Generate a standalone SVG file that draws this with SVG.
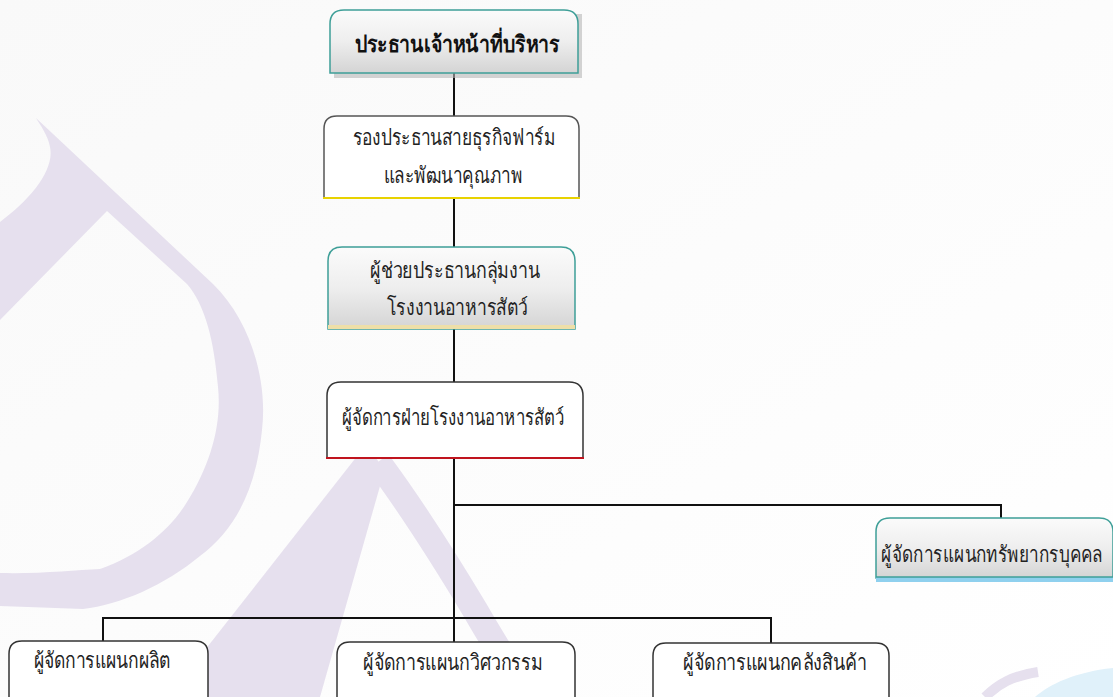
<svg xmlns="http://www.w3.org/2000/svg" width="1113" height="697" viewBox="0 0 1113 697">
  <defs>
    <linearGradient id="gloss" x1="0" y1="0" x2="0" y2="1">
      <stop offset="0" stop-color="#fbfbfb"/>
      <stop offset="0.5" stop-color="#eeeeee"/>
      <stop offset="1" stop-color="#d4d4d4"/>
    </linearGradient>
    <linearGradient id="bg" x1="0" y1="0" x2="1" y2="1">
      <stop offset="0" stop-color="#f9f9f9"/>
      <stop offset="1" stop-color="#ffffff"/>
    </linearGradient>
  </defs>
  <style>
    .wm { fill: #e6e0ee; stroke: none; }
    .conn { fill: none; stroke: #111111; stroke-width: 2; }
    .teal { fill: url(#gloss); stroke: #3e9f98; stroke-width: 1.5; }
    .plain { fill: #ffffff; stroke: #555555; stroke-width: 1.5; }
    .dark { fill: #ffffff; stroke: #333333; stroke-width: 1.5; }
    .t { font-family: "Liberation Serif", "DejaVu Serif", serif; font-size: 22px; fill: #222222; text-anchor: middle; }
    .b { font-weight: bold; font-size: 23px; fill: #111111; }
  </style>

  <rect width="1113" height="697" fill="url(#bg)"/>

  <!-- watermark -->
  <g id="watermark">
    <path class="wm" d="M0,222 C30,200 55,170 50,147 C48,135 40,125 36,118 L213,284 C250,320 268,380 262,430 C256,490 235,530 200,556 C165,585 120,605 83,609 L0,606 L0,573 C40,574 75,570 100,569 C140,555 170,530 187,502 C210,465 222,425 218,387 C214,340 205,305 187,284 L107,211 L0,320 Z"/>
    <path class="wm" d="M365,446 C372,452 380,462 384,472 L320,697 L168,697 Z"/>
    <path fill="none" stroke="#e6e0ee" stroke-width="26" d="M378,462 C410,505 445,560 475,610 C495,645 512,670 527,697"/>
    <path fill="none" stroke="#e6e0ee" stroke-width="10" d="M985,697 C998,684 1012,676 1038,672"/>
    <path fill="#e0f1fa" d="M1035,697 C1050,684 1075,672 1113,668 L1113,697 Z"/>
  </g>

  <g id="connectors">
    <path class="conn" d="M454,73 V116"/>
    <path class="conn" d="M454,198 V248"/>
    <path class="conn" d="M454,329 V382"/>
    <path class="conn" d="M454,458 V642"/>
    <path class="conn" d="M454,505 H1001 V518"/>
    <path class="conn" d="M103,641 V618 H771 V643"/>
  </g>

  <g id="ceo">
    <rect x="334" y="14" width="248" height="64" fill="#b8b8b8" opacity="0.6"/>
    <path class="teal" d="M330,73 V24 Q330,10 344,10 H564 Q578,10 578,24 V73 Z"/>
    <text class="t b" x="457" y="52" textLength="205" lengthAdjust="spacingAndGlyphs">ประธานเจ้าหน้าที่บริหาร</text>
  </g>

  <g id="vp-farm">
    <path class="plain" d="M324,198 V129 Q324,116 337,116 H566 Q579,116 579,129 V198"/>
    <line x1="323" y1="198" x2="580" y2="198" stroke="#e8d200" stroke-width="2"/>
    <text class="t" x="454" y="145" textLength="203" lengthAdjust="spacingAndGlyphs">รองประธานสายธุรกิจฟาร์ม</text>
    <text class="t" x="453" y="183" textLength="139" lengthAdjust="spacingAndGlyphs">และพัฒนาคุณภาพ</text>
  </g>

  <g id="asst-feed">
    <path class="teal" d="M328,329 V261 Q328,247 342,247 H561 Q575,247 575,261 V329 Z"/>
    <rect x="328" y="325" width="247" height="4" fill="#eedfa8"/>
    <text class="t" x="455" y="278" textLength="170" lengthAdjust="spacingAndGlyphs">ผู้ช่วยประธานกลุ่มงาน</text>
    <text class="t" x="457" y="315" textLength="141" lengthAdjust="spacingAndGlyphs">โรงงานอาหารสัตว์</text>
  </g>

  <g id="mgr-feed">
    <path class="dark" d="M327,458 V396 Q327,382 341,382 H569 Q583,382 583,396 V458"/>
    <line x1="326" y1="458" x2="584" y2="458" stroke="#c0141e" stroke-width="2"/>
    <text class="t" x="453" y="425" textLength="222" lengthAdjust="spacingAndGlyphs">ผู้จัดการฝ่ายโรงงานอาหารสัตว์</text>
  </g>

  <g id="hr">
    <path class="teal" d="M876,578 V532 Q876,518 890,518 H1099 Q1113,518 1113,532 V578 Z"/>
    <rect x="876" y="577" width="237" height="5" fill="#8fd0ee"/>
    <line x1="876" y1="577" x2="1113" y2="577" stroke="#3e9f98" stroke-width="1.5"/>
    <text class="t" transform="translate(992,562) scale(0.78,1)" x="0" y="0">ผู้จัดการแผนกทรัพยากรบุคคล</text>
  </g>

  <g id="production">
    <path class="dark" d="M9,700 V654 Q9,641 22,641 H195 Q208,641 208,654 V700"/>
    <text class="t" x="102" y="668" textLength="137" lengthAdjust="spacingAndGlyphs">ผู้จัดการแผนกผลิต</text>
  </g>

  <g id="engineering">
    <path class="dark" d="M337,700 V655 Q337,642 350,642 H562 Q575,642 575,655 V700"/>
    <text class="t" x="453" y="670" textLength="180" lengthAdjust="spacingAndGlyphs">ผู้จัดการแผนกวิศวกรรม</text>
  </g>

  <g id="warehouse">
    <path class="dark" d="M653,700 V656 Q653,643 666,643 H876 Q889,643 889,656 V700"/>
    <text class="t" x="775" y="670" textLength="184" lengthAdjust="spacingAndGlyphs">ผู้จัดการแผนกคลังสินค้า</text>
  </g>
</svg>
